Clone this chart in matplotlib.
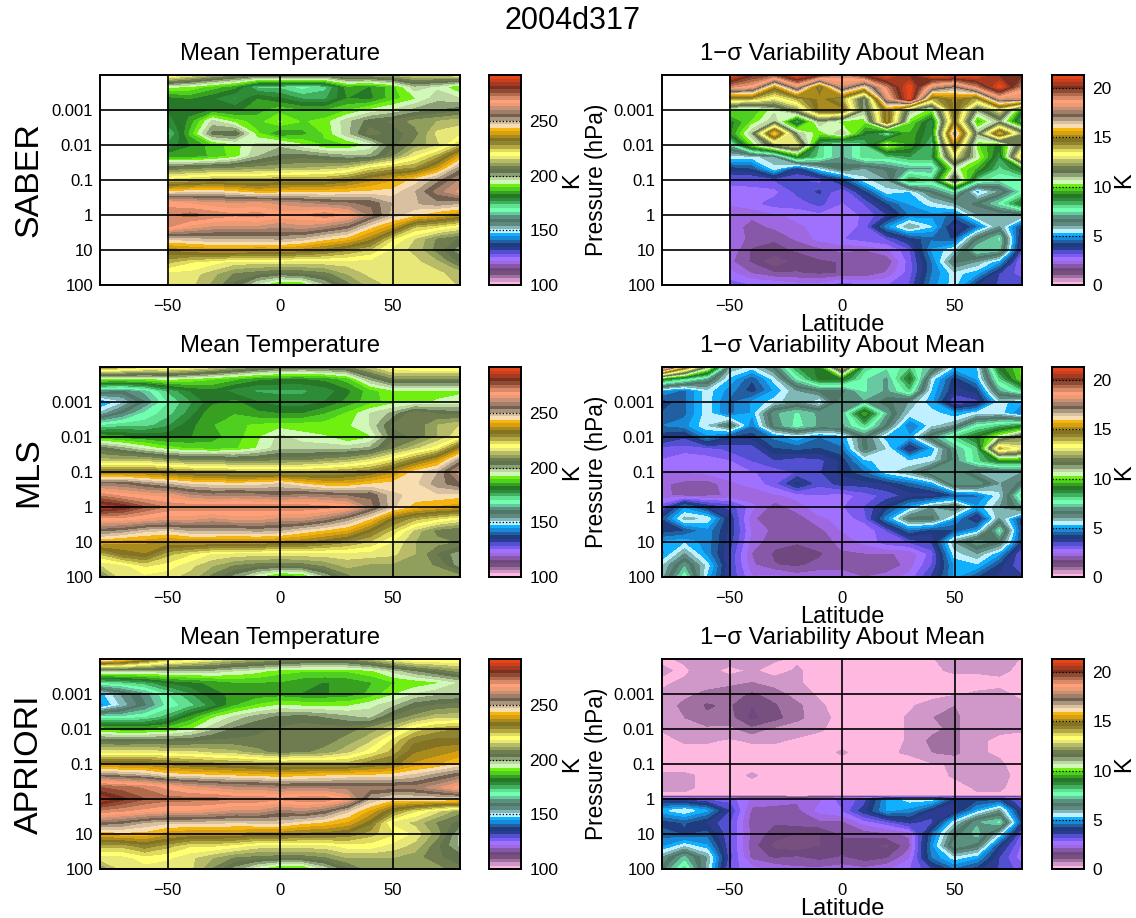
import numpy as np
import matplotlib
matplotlib.use("Agg")
import matplotlib.pyplot as plt
from matplotlib.colors import ListedColormap, BoundaryNorm

plt.rcParams['font.family'] = ['Liberation Sans', 'DejaVu Sans']

LAT = [-80, -70, -60, -50, -40, -30, -20, -10, 0, 10, 20, 30, 40, 50, 60, 70, 80]
LOGP = [-4, -3.67, -3.33, -3, -2.67, -2.33, -2, -1.67, -1.33, -1, -.67, -.33, 0, .33, .67, 1, 1.33, 1.67, 2]
LOGP_APRIORI_VAR = [-4, -3.67, -3.33, -3, -2.67, -2.33, -2, -1.67, -1.33, -1, -.67, -.33, -.08, 0, .33, .67, 1, 1.33, 1.67, 2]
NA = float('nan')

saber_temp = [
 [222,217,212,208,205,205,205,205,210,210,212,215,215,218],
 [194,192,188,184,172,172,168,172,185,183,188,198,195,188],
 [181,183,180,176,183,180,176,176,183,182,188,192,198,196],
 [180,182,183,182,185,188,186,186,189,193,196,200,202,204],
 [178,184,197,191,188,193,189,191,198,204,206,210,212,214],
 [171,187,203,205,190,182,185,190,198,207,204,207,216,217],
 [177,183,188,191,197,198,193,189,189,193,204,210,214,224],
 [185,184,187,191,199,203,204,202,200,200,208,218,226,240],
 [205,207,208,209,210,211,212,213,215,222,226,228,238,252],
 [222,224,226,226,226,228,228,228,231,236,240,245,252,260],
 [243,245,246,243,240,241,242,242,243,244,245,250,258,264],
 [268,266,264,263,264,262,260,258,257,256,250,250,252,250],
 [272,274,272,270,271,268,269,272,268,258,249,244,240,236],
 [270,265,262,262,262,260,262,259,255,245,238,225,222,218],
 [248,249,250,250,250,251,249,245,242,235,222,215,208,205],
 [234,236,238,238,237,237,235,232,228,224,217,214,207,200],
 [226,222,220,217,217,217,217,217,217,217,217,216,212,204],
 [217,217,213,208,206,204,205,207,212,216,217,217,216,213],
 [216,216,211,204,194,186,188,198,207,213,216,217,216,215],
]
mls_temp = [
 [230,226,222,222,220,216,212,208,205,204,205,207,214,220,222,222,222],
 [192,192,192,194,192,190,187,184,183,183,184,188,200,208,208,208,208],
 [162,160,165,174,180,182,178,176,176,176,178,182,188,192,192,192,192],
 [143,150,160,170,176,182,184,180,178,178,180,184,188,191,192,193,194],
 [152,160,168,172,178,186,186,184,183,183,186,190,196,200,208,205,204],
 [170,172,172,176,182,186,189,190,191,191,191,192,196,206,206,212,215],
 [186,184,183,182,183,185,188,192,197,194,193,189,192,204,206,212,218],
 [204,200,195,191,189,188,189,193,198,198,198,198,200,208,214,220,235],
 [213,213,213,210,208,208,207,207,208,208,210,212,216,222,230,238,252],
 [232,232,232,230,228,226,226,225,224,225,226,228,230,236,245,250,262],
 [256,256,252,249,246,245,244,245,247,243,240,240,243,245,246,252,256],
 [272,268,266,265,260,258,259,258,256,258,257,256,256,248,246,246,245],
 [285,282,276,272,272,272,272,272,272,272,271,268,258,248,242,240,238],
 [268,268,266,264,264,262,264,264,262,262,258,252,244,232,226,222,218],
 [254,252,248,247,250,250,250,251,250,246,243,240,232,224,214,207,205],
 [240,238,238,236,237,237,236,236,235,234,231,228,224,218,212,210,208],
 [225,232,234,226,222,218,217,217,217,217,217,217,217,216,212,205,200],
 [215,217,222,220,216,212,208,206,205,206,209,213,211,211,211,208,200],
 [205,217,217,216,214,207,200,192,185,186,198,207,211,212,212,212,210],
]
apriori_temp = [
 [250,245,235,226,222,218,214,212,210,208,208,208,212,218,222,222,222],
 [198,198,198,198,198,198,196,194,191,190,190,190,192,197,202,206,210],
 [170,172,175,180,182,184,186,186,186,184,183,184,186,189,190,192,196],
 [146,155,162,170,176,182,184,184,184,183,183,184,187,192,196,198,199],
 [143,152,160,168,172,178,186,190,193,192,192,192,195,198,204,206,207],
 [168,168,170,175,184,192,197,201,203,204,202,200,198,206,210,214,214],
 [188,186,186,188,192,198,203,205,206,207,207,207,210,214,222,226,228],
 [204,203,204,204,204,206,206,206,206,206,207,210,214,222,230,232,232],
 [217,217,217,216,216,214,213,210,207,208,210,214,220,226,234,236,238],
 [234,234,234,232,230,229,228,227,226,226,226,226,230,232,238,240,244],
 [254,252,250,246,245,244,243,242,241,242,243,244,244,245,248,252,256],
 [276,274,272,268,264,262,260,260,258,258,258,258,258,258,258,262,268],
 [285,280,276,274,274,274,272,272,270,272,272,266,250,245,246,246,246],
 [272,270,268,266,266,264,262,262,258,260,256,248,240,230,222,216,210],
 [256,254,250,248,248,248,247,248,248,245,243,240,232,217,214,208,204],
 [240,242,242,238,236,236,236,234,234,232,232,230,226,222,217,210,198],
 [226,226,230,226,222,222,220,217,217,217,217,220,220,217,214,206,198],
 [217,217,220,219,216,212,208,207,206,206,208,212,212,212,210,206,204],
 [208,216,217,216,216,208,200,192,186,186,196,204,210,212,212,210,206],
]
saber_var = [
 [21.2,20,19.5,21.2,20,19,20,21.2,20,21.2,21.2,21.2,20,20],
 [19,18.5,15,18,14,18,16,19,21.2,18,17,19,21.2,19],
 [14,14,13,14,15,14,11,18,21.2,14,15,14,18,18],
 [10,9.5,10.5,12,15,15,11,15,11,10,15,11,13,9],
 [9,10,11,8,11,10,10,15,10,8.5,14.5,9.5,11,8],
 [9,11,16,11,10,11,9,7.5,9.5,8.5,17,11,15.5,12],
 [7,10,12,13,8,7,8,10.5,9.5,8,15,10,9,12],
 [5.5,5.5,6,9,8,7,8,8,8.5,8.5,13,10.5,8.5,14],
 [4,4.2,5.5,3.8,5.5,6.5,6,6.5,7,7,10.5,9.5,8,9],
 [3,3,3.2,3.2,3,4,5.5,6,8.5,8,12,8,7.5,7.5],
 [2.6,2.7,2.7,3.3,3.6,2.8,4,5.5,5.3,6.5,7.5,5,6,7.5],
 [2.5,2.7,3,3,3.3,2.8,3.2,4.2,5,5.5,6,6.5,7.5,9],
 [2.4,2.2,2.4,2.6,2.7,2.6,2.9,3.5,4.6,4.8,4.5,6,6,6],
 [2.3,2,2.2,2.4,2.6,2.7,2.9,4.8,6,5.3,3.5,4.5,6,4],
 [2.4,2,1.8,2.2,2.6,2.8,3,3.2,4,4.5,4.2,6.5,7.5,3.4],
 [2.4,1.7,1.7,1.8,2,2.2,2.1,2.4,3.1,5,5.6,7.5,7.2,3.2],
 [2.2,1.7,1,1.6,1.7,1.8,1.8,1.8,3,4.6,6.5,6,5,2.5],
 [2.6,2.1,1.8,1.8,1.7,1.8,1.8,2.2,3,4.6,5.5,5,3.5,3],
 [3,2.8,2.8,2.6,2.6,3,2.8,2.8,3.2,4.8,5.5,3.8,3.5,3.4],
]
mls_var = [
 [20,15,11,6,5.5,6.5,8.5,9,13,8,7.5,8,7,5.2,5.2,9,10],
 [9,8,7,5.2,4.3,5.5,7.5,9,9,7.5,7,9,5.5,4,5,8,10],
 [5,4.5,5.5,4.8,4,5,6,6.5,6.5,7.5,7,8,5.2,3.8,4,7,8],
 [4,4.5,5.5,4.5,5,5.5,6,5.3,7,7,6.5,6,5,3,3.4,5.5,5],
 [4.3,4.5,5.5,4.5,5,7,7.5,7,7,9.5,7,5.5,5.5,5,5.5,5.5,4.5],
 [4.6,4.8,5.6,6.5,4.6,6.8,7.6,7,7,8,6.5,4.5,5.5,6,7.5,8,8.5],
 [4,3.6,4.8,4,4,4.7,5.2,4.6,5,6.5,5,5,6.8,8,9,10.5,12],
 [3,3,3,3.3,3.3,4.2,4.3,4.2,4.5,6.5,5.6,3.6,5,7,8,14,13],
 [2.8,2.5,2.7,2.8,3.2,3.5,3.3,3.4,4,5.2,5.6,5.3,5.5,6.8,8,9,9],
 [2.5,2.5,2.6,2.7,2.8,3,3.2,3.5,4,4.5,5.5,6,7,7,6,6,6],
 [2.2,2,1.9,2.4,2.6,3,4,3.3,3.7,3.7,3.9,4.4,5,7,7,6,6.5],
 [2.3,1.9,2,2.2,2.2,2.4,2.6,2.8,2.6,3,3.3,3.7,3.6,4.2,4.5,5.5,8],
 [3,4.8,3.8,3.4,2.6,1.9,2.3,2.7,2.8,3.2,4,5,6,6.5,5,6,7],
 [4.2,5.8,5.6,3.8,2.2,1.8,1.9,2.4,2.6,3,4.8,6.5,6.5,5,3.5,6,4],
 [4,4.2,4.8,3.8,2.4,2,1.9,2,2.5,2.5,3.2,4.5,4,4.2,5,7.5,4],
 [5,5.2,4.8,3.7,2.3,1.9,1.8,2,2.2,2.6,3,3.2,3.6,6,7,6.5,4],
 [4.8,6,4.8,3.5,2.1,1.7,1.6,1.7,2.1,2.1,2.1,2.2,3,5.5,6,5,3],
 [5.6,7,5.5,3.5,2.2,1.8,1.7,1.9,1.9,1.8,1.8,2.3,3.2,5,5.2,4,3.2],
 [5.8,7.7,5.2,3.5,2.5,2.6,2.3,2.4,2.4,2.1,2.3,2.6,3.6,5,4.2,3.8,3.6],
]
apriori_var = [
 [.3,.4,.7,.6,.7,.4,.3,.2,.2,.2,.2,.2,.3,.7,.4,.7,.3],
 [.4,.3,.5,.2,.4,.2,.4,.2,.2,.2,.2,.2,.3,.4,.4,.4,.3],
 [.3,.4,.5,.6,.7,.5,.4,.2,.2,.2,.2,.2,.2,.2,.2,.3,.3],
 [.4,.6,.8,.9,1.1,.9,.5,.3,.2,.2,.2,.2,.2,.3,.4,.4,.3],
 [.5,.8,1.1,1,1.4,1.1,.8,.4,.2,.2,.2,.3,.5,.7,.4,.5,.4],
 [.4,.7,1,.9,1.5,1.2,.8,.5,.2,.2,.2,.4,.7,.8,.4,.4,.4],
 [.4,.5,.6,.6,.9,.6,.5,.4,.2,.2,.2,.4,.6,.8,.4,.4,.4],
 [.2,.4,.4,.3,.4,.4,.3,.2,.2,.2,.2,.4,.8,.8,.4,.3,.2],
 [.2,.2,.2,.2,.2,.2,.2,.2,.4,.2,.3,.4,.7,.8,.4,.3,.2],
 [.2,.2,.2,.2,.2,.2,.2,.2,.2,.2,.2,.2,.3,.4,.4,.4,.2],
 [.4,.4,.3,.2,.4,.2,.2,.2,.2,.2,.2,.2,.2,.4,.4,.4,.3],
 [.4,.4,.3,.2,.2,.2,.2,.2,.2,.2,.2,.2,.2,.2,.4,.4,.2],
 [.3,.3,.3,.3,.3,.3,.3,.3,.3,.3,.3,.3,.3,.3,.3,.3,.3],
 [3.5,3.3,3,3,2.4,2.4,2.2,2.4,3,3.3,5,5.5,5.5,4,4,4,3],
 [5.2,5.6,5,3.5,2,1.9,2,2.6,2.8,3.8,5,4.8,3.8,3.6,5,6,3.5],
 [4,4.3,3.8,3.2,1.9,1.8,1.9,2,2,2.6,3,3.6,3.4,5.5,7,7.5,4],
 [4.5,4.2,4.4,3.2,2,1.6,1.4,1.4,1.8,1.9,2,2.2,4.5,6.5,7.3,5.5,3],
 [4.8,5.5,5,3.2,1.9,1.3,1.1,1.4,1.7,1.5,1.3,2,4.8,7,6.5,4,2.7],
 [6,7.2,6,3.3,2,1.7,1.8,1.6,1.8,1.5,1.7,2.4,4.6,5.5,5,3.5,2.6],
 [6.5,8,5.8,3,2.6,2.4,2.2,2.2,2.3,2.2,2.4,2.8,3.5,4.5,4,3.5,3],
]

# colour table, bottom to top
BANDS = ['#FFB8E0','#D098C8','#A070A0','#785080','#704880','#8858A8','#A068E0','#A070FF',
 '#7C5CF0','#5050D0','#2C3C90','#203C80','#2060A0','#1888D8','#10B0FF','#C0F0FF','#80B8B8',
 '#608880','#507868','#5A9080','#68C8A0','#70FFB0','#60E090','#40B060','#2E8C38','#267828',
 '#38A020','#4FD020','#6FF010','#D0F8B8','#BCD8A0','#8CA078','#62744E','#6E7C50','#90A05C',
 '#B8BC68','#E8E878','#FFFF70','#DEDC60','#B5A840','#8F8430','#857324','#A88B1C','#D8A010',
 '#F5B50F','#F8DDB0','#D8C0A0','#A8967E','#74604F','#A07E68','#C79078','#F09A72',
 '#FFA07A','#D98A68','#B26A4C','#8E4A33','#7A3020','#A63A20','#C8401E','#E8441A']
T_LEVELS = np.linspace(100, 292, len(BANDS) + 1)
V_LEVELS = np.linspace(0, 21.33, len(BANDS) + 1)
T_TICKS = [100, 150, 200, 250]
V_TICKS = [0, 5, 10, 15, 20]
P_TICKS = [2, 1, 0, -1, -2, -3]
P_LABELS = ['100', '10', '1', '0.1', '0.01', '0.001']
ROWS = ['SABER', 'MLS', 'APRIORI']

W, H = 1136, 918
fig = plt.figure(figsize=(W / 100, H / 100), dpi=100)
cmap = ListedColormap(BANDS)


def box(x0, y0, x1, y1):
    return fig.add_axes([x0 / W, 1 - y1 / H, (x1 - x0) / W, (y1 - y0) / H])


def field(rect, z, logp, levels, ticks, title, xlab, ylab, cbx, kdist):
    ax = box(*rect)
    z = np.array(z, float)
    if z.shape[1] < len(LAT):
        z = np.hstack([np.full((z.shape[0], len(LAT) - z.shape[1]), NA), z])
    cs = ax.contourf(LAT, logp, z, levels=levels, colors=BANDS, extend='neither')
    cs.set_edgecolor('face')
    cs.set_linewidth(0.4)
    ax.set_xlim(-80, 80)
    ax.set_ylim(2, -4)
    ax.set_xticks([-50, 0, 50])
    ax.set_xticklabels(['\u221250', '0', '50'])
    ax.set_yticks(P_TICKS)
    ax.set_yticklabels(P_LABELS)
    ax.tick_params(length=0, labelsize=12, pad=5)
    ax.tick_params(axis='x', pad=10)
    ax.grid(True, color='k', lw=1.2)
    ax.set_axisbelow(False)
    for s in ax.spines.values():
        s.set_linewidth(1.4)
    ax.set_title(title, fontsize=17.2, pad=11)
    if xlab:
        ax.set_xlabel('Latitude', fontsize=17, labelpad=0)
    if ylab:
        ax.set_ylabel('Pressure (hPa)', fontsize=16.3, labelpad=4)
    cax = box(cbx, rect[1], cbx + 32, rect[3])
    mids = 0.5 * (levels[:-1] + levels[1:])
    cax.pcolormesh([0, 1], levels, mids[:, None], cmap=cmap,
                   norm=BoundaryNorm(levels, len(BANDS)))
    cax.hlines(ticks, 0, 1, color='k', ls=':', lw=0.9)
    cax.set_xticks([])
    cax.yaxis.tick_right()
    cax.set_yticks(ticks)
    cax.tick_params(length=0, labelsize=12.5, pad=6)
    cax.set_ylim(levels[0], levels[-1])
    for s in cax.spines.values():
        s.set_linewidth(1.4)
    cax.yaxis.set_label_position('right')
    cax.set_ylabel('K', fontsize=17, rotation=90, va='center', ha='center')
    cax.yaxis.set_label_coords(1 + kdist / 32, 0.5)
    return ax


tops = [75, 367, 659]
temps = [saber_temp, mls_temp, apriori_temp]
vars_ = [saber_var, mls_var, apriori_var]
logps = [LOGP, LOGP, LOGP_APRIORI_VAR]
for top, t, v, lp, name in zip(tops, temps, vars_, logps, ROWS):
    field((100, top, 460, top + 210), t, LOGP, T_LEVELS, T_TICKS, 'Mean Temperature', False, False, 489, 51)
    field((662, top, 1022, top + 210), v, lp, V_LEVELS, V_TICKS,
          '1\u2212\u03c3 Variability About Mean', True, True, 1052, 40)
    fig.text(29 / W, 1 - (top + 105) / H, name, rotation=90, fontsize=24.5, ha='center', va='center')

fig.text(572 / W, 1 - 21 / H, '2004d317', fontsize=22, ha='center', va='center')
fig.savefig('out.png', dpi=100)
